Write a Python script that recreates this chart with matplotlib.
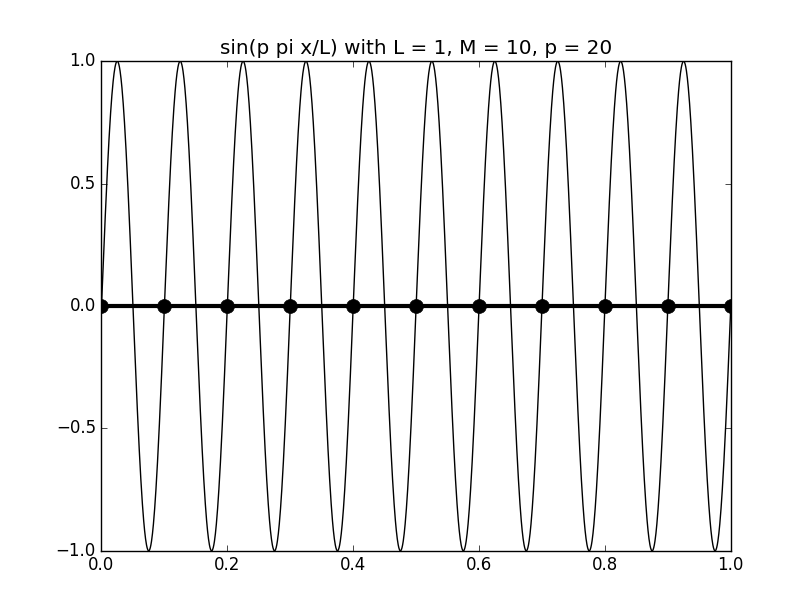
import numpy as np
import matplotlib
matplotlib.use('Agg')
import matplotlib.pyplot as plt

# parameters named in the title
L = 1
M = 10
p = 20

# mesh points on [0, L]
mesh_x = np.linspace(0, L, M + 1)
mesh_y = np.sin(p * np.pi * mesh_x / L) * 0  # sampled values are all zero

x_ticks = [0.0, 0.2, 0.4, 0.6, 0.8, 1.0]
y_ticks = [-1.0, -0.5, 0.0, 0.5, 1.0]

plt.style.use('classic')
fig = plt.figure(figsize=(8.12, 6.12), dpi=100, facecolor='white')
ax = fig.add_axes([0.125, 0.1, 0.775, 0.8])

xf = np.linspace(0, L, 2001)
ax.plot(xf, np.sin(p * np.pi * xf / L), 'k-', linewidth=1)
ax.plot(mesh_x, mesh_y, 'ko-', linewidth=3, markersize=10)

ax.set_xlim(0, L)
ax.set_ylim(-1, 1)
ax.set_xticks(x_ticks)
ax.set_yticks(y_ticks)
ax.tick_params(labelsize=12)
ax.set_title('sin(p pi x/L) with L = %d, M = %d, p = %d' % (L, M, p), fontsize=14.4)

fig.savefig('out.png', dpi=100, facecolor='white')
